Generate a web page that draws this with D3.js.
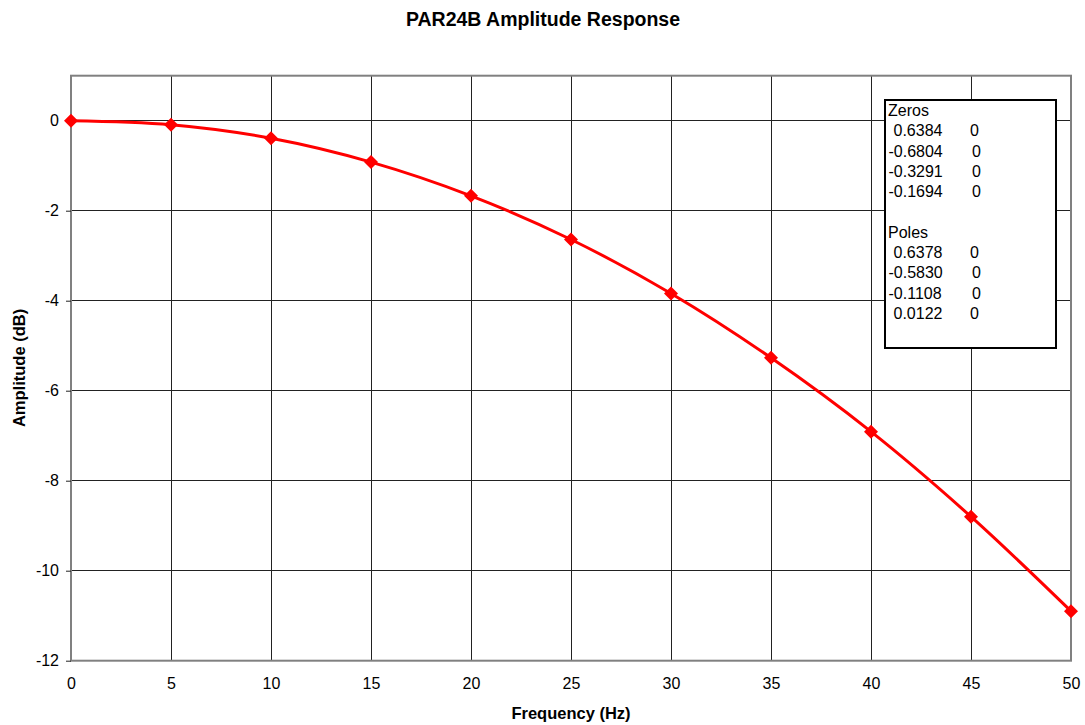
<!DOCTYPE html>
<html><head><meta charset="utf-8">
<script src="https://cdn.jsdelivr.net/npm/d3@7"></script>
<style>body{margin:0;background:#fff}svg{display:block}text{font-family:"Liberation Sans",Arial,sans-serif}</style>
</head><body><svg id="c" width="1085" height="725"></svg>
<script>
const freq = [0,5,10,15,20,25,30,35,40,45,50];
const amp = [0,-0.09,-0.39,-0.92,-1.67,-2.64,-3.84,-5.27,-6.91,-8.80,-10.90];
const xTicks = [0,5,10,15,20,25,30,35,40,45,50];
const yTicks = [0,-2,-4,-6,-8,-10,-12];
const zeros = [["0.6384","0"],["-0.6804","0"],["-0.3291","0"],["-0.1694","0"]];
const poles = [["0.6378","0"],["-0.5830","0"],["-0.1108","0"],["0.0122","0"]];
const title = "PAR24B Amplitude Response";

const svg = d3.select("#c");
const L=71,R=1071,T=75.7,B=660.7;
const x = d3.scaleLinear().domain([0,50]).range([L,R]);
const y = d3.scaleLinear().domain([-12,1]).range([B,T]);

// grid
svg.append("g").selectAll("line").data(xTicks.slice(1,-1)).join("line")
 .attr("x1",d=>x(d)).attr("x2",d=>x(d)).attr("y1",T).attr("y2",B)
 .attr("stroke","#222").attr("stroke-width",1).attr("shape-rendering","crispEdges");
svg.append("g").selectAll("line").data(yTicks.slice(0,-1)).join("line")
 .attr("x1",L).attr("x2",R).attr("y1",d=>y(d)).attr("y2",d=>y(d))
 .attr("stroke","#222").attr("stroke-width",1).attr("shape-rendering","crispEdges");
// frame
svg.append("rect").attr("x",L).attr("y",T).attr("width",R-L).attr("height",B-T)
 .attr("fill","none").attr("stroke","#808080").attr("stroke-width",2);

const fmt = d => String(d);
// axes
const ya = svg.append("g").attr("transform",`translate(${L},0)`)
 .call(d3.axisLeft(y).tickValues(yTicks).tickSize(5).tickPadding(7).tickFormat(fmt));
ya.select(".domain").remove();
ya.selectAll("line").attr("stroke","#222");
ya.selectAll("text").attr("font-size",16).attr("fill","#000").attr("font-family","Liberation Sans, Arial, sans-serif");
const xa = svg.append("g").attr("transform",`translate(0,${B})`)
 .call(d3.axisBottom(x).tickValues(xTicks).tickSize(0).tickPadding(17).tickFormat(fmt));
xa.select(".domain").remove();
xa.selectAll("text").attr("font-size",16).attr("fill","#000").attr("font-family","Liberation Sans, Arial, sans-serif");

// titles
svg.append("text").attr("x",543).attr("y",25.5).attr("text-anchor","middle")
 .attr("font-size",19.5).attr("font-weight","bold").text(title);
svg.append("text").attr("x",571).attr("y",718.5).attr("text-anchor","middle")
 .attr("font-size",16.5).attr("font-weight","bold").text("Frequency (Hz)");
svg.append("text").attr("transform","translate(24.5,368) rotate(-90)").attr("text-anchor","middle")
 .attr("font-size",16.5).attr("font-weight","bold").text("Amplitude (dB)");

// line
const pts = freq.map((f,i)=>[f,amp[i]]);
svg.append("path").datum(pts)
 .attr("d",d3.line().x(d=>x(d[0])).y(d=>y(d[1])).curve(d3.curveCatmullRom.alpha(0.5)))
 .attr("fill","none").attr("stroke","#ff0000").attr("stroke-width",3);
svg.append("g").selectAll("path").data(pts).join("path")
 .attr("transform",d=>`translate(${x(d[0])},${y(d[1])})`)
 .attr("d",d3.symbol(d3.symbolDiamond2,125)).attr("fill","#ff0000");

// legend box
svg.append("rect").attr("x",885).attr("y",100).attr("width",171).attr("height",248)
 .attr("fill","#fff").attr("stroke","#000").attr("stroke-width",2);
const rows = [["Zeros",null]].concat(zeros).concat([[null,null],["Poles",null]]).concat(poles);
const lg = svg.append("g").attr("font-size",16);
rows.forEach((r,i)=>{
  const yy = 116 + i*20.3;
  if(r[0]===null) return;
  if(r[1]===null){ lg.append("text").attr("x",888).attr("y",yy).text(r[0]); return; }
  const neg = r[0].startsWith("-");
  lg.append("text").attr("x",neg?888.5:893.5).attr("y",yy).text(r[0]);
  lg.append("text").attr("x",neg?972:970).attr("y",yy).text(r[1]);
});
</script></body></html>
